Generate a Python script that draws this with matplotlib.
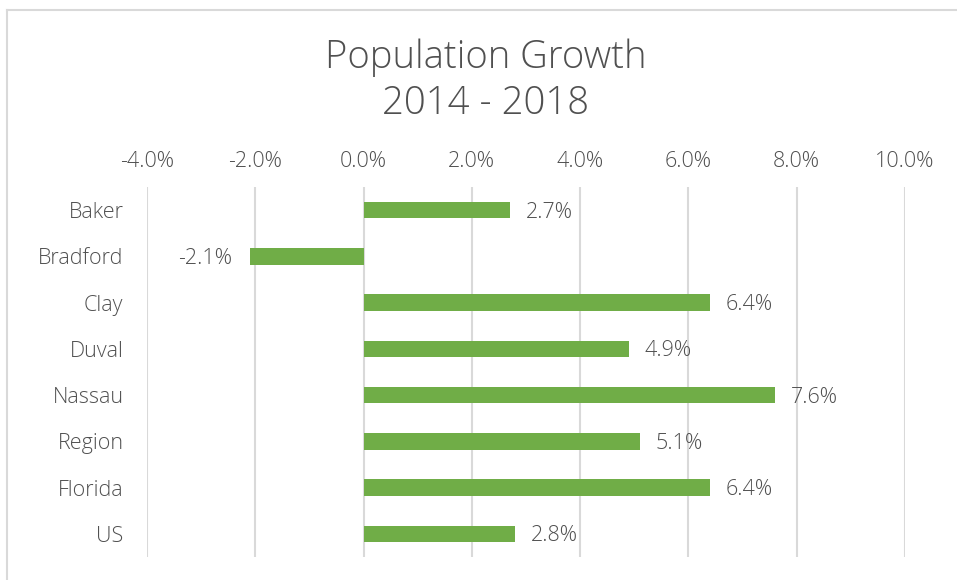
import matplotlib.pyplot as plt
from matplotlib.ticker import FuncFormatter
from matplotlib.lines import Line2D

plt.rcParams['font.family'] = ['Open Sans', 'DejaVu Sans']

regions = ['Baker', 'Bradford', 'Clay', 'Duval', 'Nassau', 'Region', 'Florida', 'US']
growth = [2.7, -2.1, 6.4, 4.9, 7.6, 5.1, 6.4, 2.8]
x_ticks = [-4, -2, 0, 2, 4, 6, 8, 10]

text_color = '#505050'
bar_color = '#70AD47'
grid_color = '#D9D9D9'

fig = plt.figure(figsize=(9.57, 5.8), dpi=100)
ax = fig.add_axes([147 / 957, 1 - 557 / 580, (905 - 147) / 957, (557 - 187) / 580])

# chart frame (only top and left edges visible in the crop)
fig.add_artist(Line2D([6.5 / 957, 6.5 / 957], [0, 1 - 10 / 580], transform=fig.transFigure,
                      color=grid_color, lw=1.5))
fig.add_artist(Line2D([6.5 / 957, 1], [1 - 10 / 580, 1 - 10 / 580], transform=fig.transFigure,
                      color=grid_color, lw=1.5))

y = list(range(len(regions)))
ax.barh(y, growth, height=0.36, color=bar_color, zorder=3)

for yi, v in zip(y, growth):
    if v >= 0:
        ax.annotate(f'{v:.1f}%', (v, yi), xytext=(11.5, -1.5), textcoords='offset points',
                    va='center', ha='left', fontsize=15.5, color=text_color, fontweight='light')
    else:
        ax.annotate(f'{v:.1f}%', (v, yi), xytext=(-13, -1.5), textcoords='offset points',
                    va='center', ha='right', fontsize=15.5, color=text_color, fontweight='light')

ax.set_xlim(-4, 10)
ax.set_ylim(7.5, -0.5)
ax.set_xticks(x_ticks)
ax.xaxis.set_major_formatter(FuncFormatter(lambda v, p: f'{v:.1f}%'))
ax.xaxis.tick_top()
ax.set_yticks(y)
ax.set_yticklabels(regions)
ax.tick_params(axis='both', length=0, labelsize=15.5, labelcolor=text_color)
for lab in ax.get_xticklabels() + ax.get_yticklabels():
    lab.set_fontweight('light')
ax.tick_params(axis='x', pad=11)
ax.tick_params(axis='y', pad=17)
ax.grid(axis='x', color=grid_color, lw=1.5, zorder=0)
for s in ax.spines.values():
    s.set_visible(False)

fig.text(486 / 957, 1 - 81 / 580, 'Population Growth\n2014 - 2018', ha='center', va='center',
         fontsize=27.5, color=text_color, linespacing=1.25, fontweight='light')

fig.savefig('out.png', dpi=100, facecolor='white')
